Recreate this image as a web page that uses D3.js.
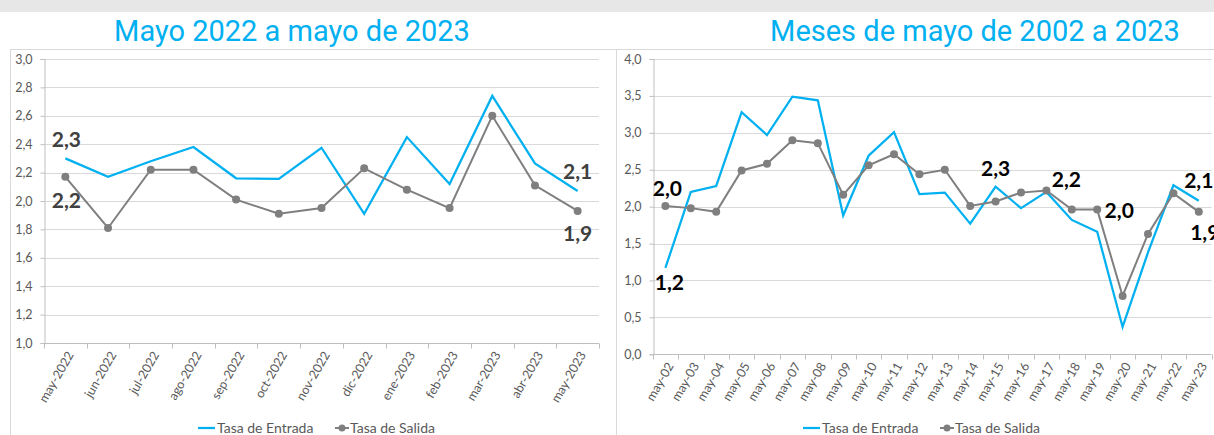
<!DOCTYPE html>
<html lang="es">
<head>
<meta charset="UTF-8">
<title>Tasa de Entrada y Tasa de Salida</title>
<script src="https://d3js.org/d3.v7.min.js"></script>
<style>
  body { margin: 0; overflow: hidden; background: #fff; }
  svg { display: block; }
  .tick-label { font-family: Lato, 'Noto Sans', sans-serif; font-size: 12.5px; fill: #595959; }
  .title { font-family: Roboto, sans-serif; font-size: 29px; fill: #00b0f0; }
  .legend { font-family: Lato, 'Noto Sans', sans-serif; font-size: 14px; fill: #595959; }
  .val { font-family: Lato, 'Noto Sans', sans-serif; font-size: 21px; font-weight: bold; }
</style>
</head>
<body>
<script>
  // --- datos: mayo 2022 a mayo 2023
  const mesesCorto = ["may-2022", "jun-2022", "jul-2022", "ago-2022", "sep-2022", "oct-2022", "nov-2022",
    "dic-2022", "ene-2023", "feb-2023", "mar-2023", "abr-2023", "may-2023"];
  const entradaCorto = [2.30, 2.17, 2.28, 2.38, 2.16, 2.155, 2.375, 1.91, 2.45, 2.12, 2.74, 2.265, 2.07];
  const salidaCorto = [2.17, 1.81, 2.22, 2.22, 2.01, 1.91, 1.95, 2.23, 2.08, 1.95, 2.60, 2.11, 1.93];
  const ticksCorto = [1.0, 1.2, 1.4, 1.6, 1.8, 2.0, 2.2, 2.4, 2.6, 2.8, 3.0];

  // --- datos: meses de mayo 2002 a 2023
  const mesesLargo = ["may-02", "may-03", "may-04", "may-05", "may-06", "may-07", "may-08", "may-09",
    "may-10", "may-11", "may-12", "may-13", "may-14", "may-15", "may-16", "may-17", "may-18", "may-19",
    "may-20", "may-21", "may-22", "may-23"];
  const entradaLargo = [1.17, 2.20, 2.28, 3.28, 2.97, 3.49, 3.44, 1.88, 2.69, 3.01, 2.17, 2.19, 1.77,
    2.27, 1.98, 2.20, 1.82, 1.66, 0.37, 1.38, 2.29, 2.08];
  const salidaLargo = [2.01, 1.98, 1.93, 2.49, 2.58, 2.90, 2.86, 2.16, 2.56, 2.71, 2.44, 2.50, 2.01,
    2.07, 2.19, 2.22, 1.96, 1.96, 0.79, 1.63, 2.18, 1.93];
  const ticksLargo = [0.0, 0.5, 1.0, 1.5, 2.0, 2.5, 3.0, 3.5, 4.0];

  const series = ["Tasa de Entrada", "Tasa de Salida"];

  const W = 1214, H = 435;
  const azul = "#00b0f0", gris = "#7f7f7f";
  const coma = v => d3.format(".1f")(v).replace(".", ",");

  const svg = d3.select("body").append("svg").attr("width", W).attr("height", H);

  // banda gris superior y marcos
  svg.append("rect").attr("x", 0).attr("y", 0).attr("width", W).attr("height", 12).attr("fill", "#e7e7e7");
  svg.append("line").attr("x1", 10.5).attr("x2", W).attr("y1", 49.5).attr("y2", 49.5).attr("stroke", "#d9d9d9");
  svg.append("line").attr("x1", 10.5).attr("x2", 10.5).attr("y1", 49.5).attr("y2", H).attr("stroke", "#d9d9d9");
  svg.append("line").attr("x1", 616.5).attr("x2", 616.5).attr("y1", 49.5).attr("y2", H).attr("stroke", "#d9d9d9");

  function drawChart(cfg) {
    const g = svg.append("g");
    const x = d3.scaleBand().domain(cfg.cats).range([cfg.x0, cfg.x1]).padding(0);
    const y = d3.scaleLinear().domain(cfg.domain).range([cfg.y0, cfg.y1]);
    const cx = c => x(c) + x.bandwidth() / 2;

    g.append("text").attr("class", "title").attr("x", cfg.titleX).attr("y", 41)
      .attr("text-anchor", "middle").text(cfg.title);

    // rejilla
    g.append("g").selectAll("line").data(cfg.ticks.slice(1)).join("line")
      .attr("x1", cfg.x0).attr("x2", cfg.x1)
      .attr("y1", d => Math.round(y(d)) + 0.5).attr("y2", d => Math.round(y(d)) + 0.5)
      .attr("stroke", "#d9d9d9").attr("stroke-width", 1);

    // eje y
    const ya = g.append("g").attr("transform", `translate(${Math.round(cfg.x0) + 0.5},0)`)
      .call(d3.axisLeft(y).tickValues(cfg.ticks).tickSize(4).tickPadding(8).tickFormat(coma));
    ya.select(".domain").attr("stroke", "#bfbfbf");
    ya.selectAll(".tick line").attr("stroke", "#bfbfbf");
    ya.selectAll(".tick text").attr("class", "tick-label").attr("fill", null);

    // eje x
    const base = Math.round(cfg.y0) + 0.5;
    g.append("line").attr("x1", cfg.x0).attr("x2", cfg.x1).attr("y1", base).attr("y2", base).attr("stroke", "#bfbfbf");
    const edges = cfg.cats.map(c => x(c)).concat([cfg.x1]);
    g.append("g").selectAll("line").data(edges).join("line")
      .attr("x1", d => Math.round(d) + 0.5).attr("x2", d => Math.round(d) + 0.5)
      .attr("y1", base).attr("y2", base + 5).attr("stroke", "#bfbfbf");
    g.append("g").selectAll("text").data(cfg.cats).join("text")
      .attr("class", "tick-label")
      .attr("text-anchor", "end")
      .attr("transform", d => `translate(${cx(d) + 5},${base + 9}) rotate(-60)`)
      .attr("dy", "0.35em")
      .text(d => d);

    const line = d3.line().x((d, i) => cx(cfg.cats[i])).y(d => y(d));

    g.append("path").datum(cfg.entrada).attr("d", line)
      .attr("fill", "none").attr("stroke", azul).attr("stroke-width", 2.25).attr("stroke-linejoin", "miter");
    g.append("path").datum(cfg.salida).attr("d", line)
      .attr("fill", "none").attr("stroke", gris).attr("stroke-width", 2);
    g.append("g").selectAll("circle").data(cfg.salida).join("circle")
      .attr("cx", (d, i) => cx(cfg.cats[i])).attr("cy", d => y(d)).attr("r", 4).attr("fill", gris);

    // etiquetas de valor
    cfg.labels.forEach(l => {
      const v = (l.s === 0 ? cfg.entrada : cfg.salida)[l.i];
      g.append("text").attr("class", "val").attr("fill", cfg.labelColor)
        .attr("text-anchor", "middle")
        .attr("x", cx(cfg.cats[l.i]) + l.dx).attr("y", y(v) + l.dy)
        .text(coma(v));
    });

    // leyenda
    const lg = g.append("g").attr("transform", `translate(${cfg.legendX},428)`);
    lg.append("line").attr("x1", 0).attr("x2", 17).attr("stroke", azul).attr("stroke-width", 2.25);
    lg.append("text").attr("class", "legend").attr("x", 19).attr("y", 5).text(series[0]);
    lg.append("line").attr("x1", 137).attr("x2", 151).attr("stroke", gris).attr("stroke-width", 2);
    lg.append("circle").attr("cx", 144).attr("r", 3.5).attr("fill", gris);
    lg.append("text").attr("class", "legend").attr("x", 152).attr("y", 5).text(series[1]);
  }

  drawChart({
    title: "Mayo 2022 a mayo de 2023", titleX: 292,
    cats: mesesCorto, entrada: entradaCorto, salida: salidaCorto, ticks: ticksCorto,
    domain: [1, 3], x0: 44, x1: 599, y0: 343, y1: 59,
    legendX: 198, labelColor: "#404040",
    labels: [
      { s: 0, i: 0, dx: 1, dy: -11 },
      { s: 1, i: 0, dx: 1, dy: 31 },
      { s: 0, i: 12, dx: 0, dy: -12 },
      { s: 1, i: 12, dx: 0, dy: 30 }
    ]
  });

  drawChart({
    title: "Meses de mayo de 2002 a 2023", titleX: 975,
    cats: mesesLargo, entrada: entradaLargo, salida: salidaLargo, ticks: ticksLargo,
    domain: [0, 4], x0: 652.7, x1: 1211.5, y0: 354.3, y1: 59,
    legendX: 803, labelColor: "#000",
    labels: [
      { s: 1, i: 0, dx: 2, dy: -10 },
      { s: 0, i: 0, dx: 4, dy: 22 },
      { s: 0, i: 13, dx: 0, dy: -11 },
      { s: 1, i: 15, dx: 20, dy: -3 },
      { s: 1, i: 17, dx: 22, dy: 8 },
      { s: 0, i: 21, dx: 0, dy: -13 },
      { s: 1, i: 21, dx: 6, dy: 28 }
    ]
  });
</script>
</body>
</html>
